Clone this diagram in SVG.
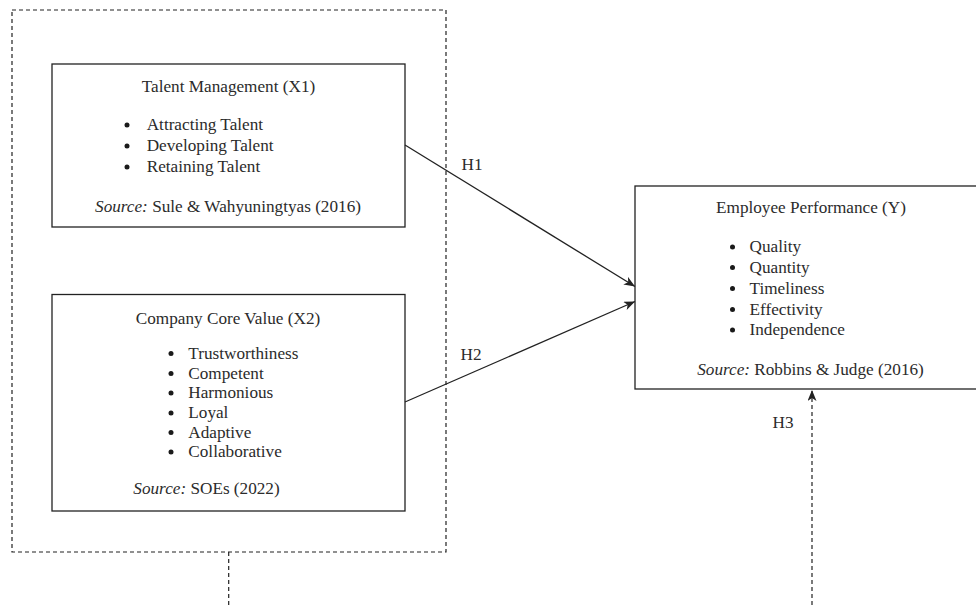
<svg xmlns="http://www.w3.org/2000/svg" width="976" height="605" viewBox="0 0 976 605">
<defs>
<style>
text{font-family:"Liberation Serif","Times New Roman",serif;font-size:17.2px;fill:#2b2b2b}
.c{text-anchor:middle}
.i{font-style:italic}
.dot{fill:#1a1a1a}
.box{fill:#fff;stroke:#222;stroke-width:1.3}
.dash{fill:none;stroke:#222;stroke-width:1.2;stroke-dasharray:4 3}
.ln{fill:none;stroke:#222;stroke-width:1.3}
</style>
<marker id="arr" markerUnits="userSpaceOnUse" markerWidth="12" markerHeight="10" refX="11" refY="4.5" orient="auto">
<path d="M0,0 L11,4.5 L0,9 L3,4.5 z" fill="#222"/>
</marker>
</defs>
<g id="group-outer">
<rect class="dash" x="12" y="10" width="434" height="542"/>
</g>
<g id="node-x1">
<rect class="box" x="52" y="64" width="353" height="163"/>
<text class="c" x="228.5" y="92">Talent Management (X1)</text>
<circle class="dot" cx="127" cy="125" r="2.5"/><text x="146.7" y="130">Attracting Talent</text>
<circle class="dot" cx="127" cy="146" r="2.5"/><text x="146.7" y="151">Developing Talent</text>
<circle class="dot" cx="127" cy="167" r="2.5"/><text x="146.7" y="172">Retaining Talent</text>
<text class="c" x="228" y="212"><tspan class="i">Source:</tspan> Sule &amp; Wahyuningtyas (2016)</text>
</g>
<g id="node-x2">
<rect class="box" x="52" y="294.5" width="353" height="216.5"/>
<text class="c" x="228" y="323.5">Company Core Value (X2)</text>
<circle class="dot" cx="171" cy="353.5" r="2.5"/><text x="188.3" y="358.5">Trustworthiness</text>
<circle class="dot" cx="171" cy="373.5" r="2.5"/><text x="188.3" y="378.5">Competent</text>
<circle class="dot" cx="171" cy="393" r="2.5"/><text x="188.3" y="398">Harmonious</text>
<circle class="dot" cx="171" cy="413" r="2.5"/><text x="188.3" y="418">Loyal</text>
<circle class="dot" cx="171" cy="432.5" r="2.5"/><text x="188.3" y="437.5">Adaptive</text>
<circle class="dot" cx="171" cy="452" r="2.5"/><text x="188.3" y="457">Collaborative</text>
<text x="133.3" y="494"><tspan class="i">Source:</tspan> SOEs (2022)</text>
</g>
<g id="node-y">
<rect class="box" x="635" y="186" width="352" height="203"/>
<text class="c" x="811" y="213">Employee Performance (Y)</text>
<circle class="dot" cx="732.5" cy="247" r="2.5"/><text x="749.5" y="252">Quality</text>
<circle class="dot" cx="732.5" cy="267.5" r="2.5"/><text x="749.5" y="272.5">Quantity</text>
<circle class="dot" cx="732.5" cy="288.5" r="2.5"/><text x="749.5" y="293.5">Timeliness</text>
<circle class="dot" cx="732.5" cy="309.5" r="2.5"/><text x="749.5" y="314.5">Effectivity</text>
<circle class="dot" cx="732.5" cy="330" r="2.5"/><text x="749.5" y="335">Independence</text>
<text class="c" x="810.5" y="375"><tspan class="i">Source:</tspan> Robbins &amp; Judge (2016)</text>
</g>
<g id="connectors">
<line class="ln" x1="405" y1="145" x2="635" y2="286.5" marker-end="url(#arr)"/>
<line class="ln" x1="405" y1="402" x2="635" y2="301.5" marker-end="url(#arr)"/>
<line class="dash" x1="812" y1="605" x2="812" y2="390" marker-end="url(#arr)"/>
<line class="dash" x1="228.7" y1="552" x2="228.7" y2="605"/>
<text x="461.5" y="169.5">H1</text>
<text x="460.5" y="360">H2</text>
<text x="772.5" y="428.3">H3</text>
</g>
</svg>
